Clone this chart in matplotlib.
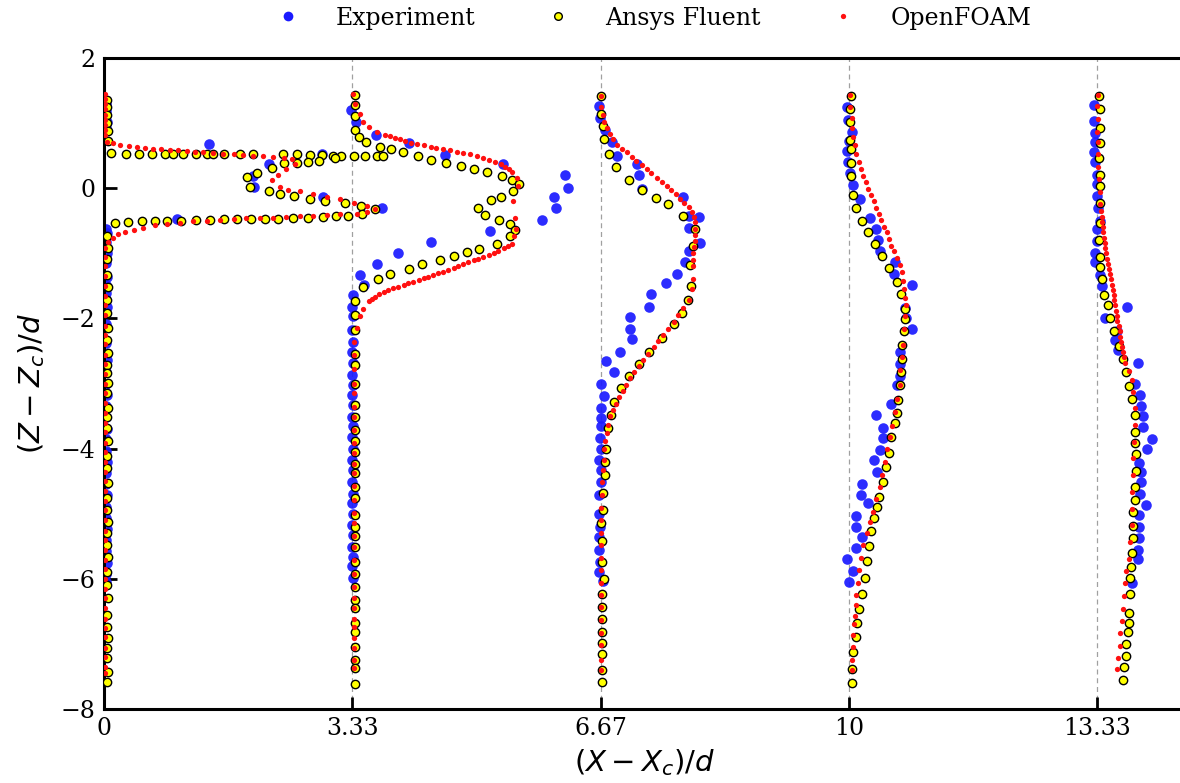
import matplotlib.pyplot as plt
from matplotlib.lines import Line2D

# stations along the wake, and their tick labels
stations = [0, 3.333, 6.667, 10, 13.333]
tick_labels = ["0", "3.33", "6.67", "10", "13.33"]

# profiles as (dx, z) pairs, dx measured from the station line
# --- Experiment ---
exp_0 = [(0.03, 1.30), (0.03, 1.18), (0.04, 1.02), (0.03, 0.93),
         (1.41, 0.68), (2.92, 0.53), (2.22, 0.37), (2.00, 0.18), (2.01, 0.02),
         (2.94, -0.13), (3.73, -0.31), (0.98, -0.48),
         (0.03, -0.62), (0.04, -0.69), (0.03, -0.82), (0.04, -1.00), (0.03, -1.15),
         (0.04, -1.36), (0.03, -1.49), (0.03, -1.61), (0.04, -1.82), (0.03, -2.08),
         (0.03, -2.38), (0.04, -2.64), (0.03, -2.82), (0.03, -3.00), (0.04, -3.17),
         (0.03, -3.35), (0.03, -3.52), (0.04, -3.70), (0.03, -3.86), (0.03, -4.04),
         (0.04, -4.20), (0.03, -4.38), (0.03, -4.55), (0.04, -4.72), (0.03, -4.90),
         (0.03, -5.06), (0.04, -5.24), (0.03, -5.40), (0.03, -5.58), (0.04, -5.75),
         (0.03, -5.92), (0.03, -6.05)]
exp_1 = [(-0.02, 1.20), (0.05, 1.02), (0.32, 0.82), (0.76, 0.69), (1.25, 0.51),
         (2.02, 0.37), (2.86, 0.20), (2.90, 0.00), (2.71, -0.14), (2.74, -0.31),
         (2.55, -0.49), (1.85, -0.65), (1.05, -0.82), (0.61, -0.99), (0.33, -1.16),
         (0.10, -1.33), (0.16, -1.49), (0.01, -1.64), (0.00, -1.82), (0.01, -1.97),
         (0.00, -2.18), (0.01, -2.36), (0.00, -2.51), (0.01, -2.69), (0.00, -2.87),
         (0.01, -3.02), (0.00, -3.18), (0.01, -3.33), (0.00, -3.51), (0.01, -3.66),
         (0.00, -3.82), (0.01, -4.00), (0.00, -4.18), (0.01, -4.33), (0.00, -4.51),
         (0.01, -4.69), (0.00, -4.84), (0.01, -5.00), (0.00, -5.17), (0.01, -5.33),
         (0.00, -5.51), (0.01, -5.66), (0.00, -5.81), (0.01, -5.99)]
exp_2 = [(-0.02, 1.27), (-0.01, 1.08), (0.06, 0.89), (0.15, 0.71), (0.22, 0.50),
         (0.49, 0.37), (0.51, 0.20), (0.56, -0.01), (1.10, -0.13), (1.18, -0.43),
         (1.32, -0.44), (1.18, -0.61), (1.33, -0.84), (1.18, -0.97), (1.13, -1.14),
         (1.02, -1.32), (0.88, -1.46), (0.68, -1.63), (0.65, -1.82), (0.39, -1.98),
         (0.40, -2.16), (0.42, -2.32), (0.26, -2.52), (0.07, -2.65), (0.18, -2.83),
         (0.01, -3.01), (0.04, -3.19), (0.01, -3.37), (0.01, -3.53), (0.01, -3.66),
         (-0.01, -3.83), (0.00, -4.01), (-0.02, -4.17), (0.00, -4.33), (0.01, -4.51),
         (-0.02, -4.72), (-0.02, -5.00), (-0.01, -5.20), (-0.02, -5.36), (-0.02, -5.55),
         (-0.01, -5.74), (-0.02, -5.90), (0.03, -6.03)]
exp_3 = [(-0.03, 1.24), (-0.01, 1.05), (0.04, 0.87), (0.00, 0.73), (-0.03, 0.57),
         (-0.01, 0.41), (0.01, 0.23), (0.06, 0.05), (0.15, -0.17), (0.28, -0.46),
         (0.36, -0.63), (0.39, -0.80), (0.42, -0.97), (0.62, -1.14), (0.60, -1.32),
         (0.85, -1.48), (0.75, -1.84), (0.77, -2.00), (0.84, -2.16), (0.68, -2.51),
         (0.68, -2.70), (0.68, -2.89), (0.64, -3.02), (0.57, -3.32), (0.36, -3.49),
         (0.46, -3.68), (0.46, -3.83), (0.42, -4.02), (0.34, -4.17), (0.38, -4.36),
         (0.17, -4.54), (0.16, -4.72), (0.26, -4.84), (0.10, -5.04), (0.10, -5.20),
         (0.17, -5.36), (0.10, -5.52), (-0.03, -5.69), (0.05, -5.88), (0.00, -6.05)]
exp_4 = [(-0.05, 1.28), (-0.05, 1.03), (-0.03, 0.85), (-0.03, 0.71), (-0.04, 0.55),
         (-0.03, 0.41), (-0.01, 0.21), (-0.01, 0.06), (0.00, -0.12), (0.01, -0.30),
         (0.03, -0.50), (-0.01, -0.63), (-0.01, -0.81), (-0.03, -1.00), (-0.03, -1.14),
         (0.04, -1.34), (0.06, -1.50), (0.40, -1.82), (0.10, -1.99), (0.26, -2.20),
         (0.24, -2.33), (0.28, -2.49), (0.54, -2.68), (0.51, -3.00), (0.57, -3.18),
         (0.58, -3.35), (0.62, -3.50), (0.62, -3.67), (0.73, -3.86), (0.67, -4.01),
         (0.56, -4.22), (0.58, -4.36), (0.58, -4.52), (0.57, -4.70), (0.65, -4.86),
         (0.56, -5.02), (0.56, -5.21), (0.56, -5.37), (0.54, -5.56), (0.55, -5.69),
         (0.46, -6.06)]

# --- Ansys Fluent ---
flu_0 = [(0.04, 1.36), (0.04, 1.24), (0.04, 1.12), (0.04, 1.00), (0.05, 0.88), (0.05, 0.72),
         (0.10, 0.54), (0.30, 0.53), (0.47, 0.53), (0.65, 0.53), (0.82, 0.53), (0.93, 0.53),
         (1.06, 0.53), (1.24, 0.53), (1.38, 0.53), (1.47, 0.53), (1.61, 0.53), (1.82, 0.53),
         (2.00, 0.53), (2.40, 0.52), (2.59, 0.52), (2.77, 0.51), (2.92, 0.51), (3.08, 0.50),
         (3.18, 0.50), (3.35, 0.50), (3.50, 0.50), (3.66, 0.50), (3.75, 0.50),
         (3.10, 0.46), (2.89, 0.42), (2.74, 0.40), (2.59, 0.38), (2.41, 0.38), (2.25, 0.31),
         (2.06, 0.23), (1.92, 0.17), (1.96, 0.02), (2.21, -0.05), (2.36, -0.09),
         (2.55, -0.12), (2.76, -0.16), (2.97, -0.19), (3.23, -0.23), (3.45, -0.28),
         (3.64, -0.32), (3.46, -0.39), (3.28, -0.42), (3.12, -0.43), (2.94, -0.44),
         (2.74, -0.45), (2.54, -0.46), (2.34, -0.47), (2.16, -0.47), (1.97, -0.48),
         (1.79, -0.48), (1.61, -0.48), (1.42, -0.49), (1.24, -0.49), (1.04, -0.50),
         (0.84, -0.50), (0.68, -0.50), (0.51, -0.50), (0.32, -0.52), (0.15, -0.53),
         (0.04, -0.74), (0.05, -0.92), (0.04, -1.09), (0.04, -1.33), (0.05, -1.51),
         (0.04, -1.72), (0.04, -1.92), (0.05, -2.15), (0.04, -2.33), (0.05, -2.53),
         (0.04, -2.72), (0.04, -2.84), (0.05, -2.99), (0.04, -3.15), (0.05, -3.38),
         (0.04, -3.52), (0.04, -3.69), (0.05, -3.89), (0.04, -4.12), (0.04, -4.30),
         (0.05, -4.53), (0.04, -4.76), (0.04, -4.94), (0.05, -5.12), (0.04, -5.30),
         (0.04, -5.48), (0.05, -5.66), (0.04, -5.89), (0.04, -6.10), (0.05, -6.30),
         (0.04, -6.56), (0.04, -6.74), (0.05, -6.91), (0.04, -7.07), (0.04, -7.22),
         (0.05, -7.43), (0.04, -7.58)]
flu_1 = [(0.03, 1.43), (0.03, 1.28), (0.03, 1.11), (0.04, 0.90), (0.09, 0.79), (0.18, 0.71),
         (0.37, 0.64), (0.52, 0.61), (0.68, 0.55), (0.88, 0.49), (1.06, 0.44), (1.26, 0.39),
         (1.46, 0.34), (1.63, 0.30), (1.81, 0.25), (2.01, 0.19), (2.14, 0.13), (2.24, 0.06),
         (2.16, -0.04), (2.00, -0.14), (1.86, -0.18), (1.69, -0.31), (1.78, -0.41),
         (1.97, -0.49), (2.12, -0.55), (2.19, -0.64), (2.12, -0.73), (1.94, -0.86),
         (1.70, -0.94), (1.54, -0.98), (1.36, -1.04), (1.18, -1.10), (0.93, -1.17),
         (0.76, -1.24), (0.50, -1.32), (0.35, -1.40), (0.15, -1.52),
         (0.04, -1.74), (0.04, -1.95), (0.04, -2.18), (0.04, -2.54), (0.04, -2.72),
         (0.04, -3.00), (0.04, -3.33), (0.04, -3.51), (0.04, -3.71), (0.04, -3.89),
         (0.04, -4.05), (0.04, -4.23), (0.04, -4.38), (0.04, -4.59), (0.04, -4.76),
         (0.04, -5.02), (0.04, -5.20), (0.04, -5.35), (0.04, -5.51), (0.04, -5.74),
         (0.04, -5.92), (0.04, -6.12), (0.04, -6.33), (0.04, -6.45), (0.04, -6.68),
         (0.04, -6.81), (0.04, -7.04), (0.04, -7.25), (0.04, -7.37), (0.04, -7.61)]
flu_2 = [(0.01, 1.42), (0.00, 1.14), (0.03, 0.95), (0.04, 0.76), (0.11, 0.52), (0.21, 0.32),
         (0.38, 0.12), (0.56, -0.03), (0.74, -0.15), (0.91, -0.25), (1.11, -0.43),
         (1.27, -0.62), (1.24, -0.89), (1.20, -1.18), (1.21, -1.50), (1.17, -1.72),
         (1.09, -1.92), (0.98, -2.09), (0.82, -2.30), (0.65, -2.52), (0.51, -2.70),
         (0.38, -2.88), (0.27, -3.07), (0.18, -3.29), (0.14, -3.49), (0.10, -3.69),
         (0.07, -4.00), (0.06, -4.20), (0.06, -4.40), (0.03, -4.68), (0.03, -4.94),
         (0.01, -5.15), (0.02, -5.42), (0.02, -5.74), (0.04, -6.00), (0.02, -6.24),
         (0.02, -6.43), (0.02, -6.62), (0.02, -6.82), (0.02, -6.99), (0.02, -7.15),
         (0.02, -7.40), (0.02, -7.58)]
flu_3 = [(0.03, 1.42), (0.01, 1.22), (0.01, 1.01), (0.01, 0.74), (0.03, 0.60), (0.03, 0.39),
         (0.03, 0.18), (0.06, -0.11), (0.10, -0.30), (0.17, -0.50), (0.26, -0.68),
         (0.35, -0.86), (0.44, -1.04), (0.54, -1.23), (0.64, -1.44), (0.70, -1.63),
         (0.75, -1.85), (0.75, -2.01), (0.74, -2.19), (0.71, -2.41), (0.71, -2.62),
         (0.70, -2.83), (0.68, -3.03), (0.66, -3.26), (0.64, -3.45), (0.62, -3.61),
         (0.57, -3.82), (0.54, -4.06), (0.50, -4.29), (0.45, -4.51), (0.40, -4.74),
         (0.37, -4.90), (0.34, -5.07), (0.30, -5.26), (0.27, -5.50), (0.24, -5.72),
         (0.21, -5.98), (0.17, -6.23), (0.13, -6.46), (0.11, -6.68), (0.09, -6.89),
         (0.05, -7.13), (0.04, -7.39), (0.04, -7.60)]
flu_4 = [(0.02, 1.42), (0.04, 1.21), (0.04, 0.92), (0.03, 0.70), (0.02, 0.46), (0.03, 0.21),
         (0.03, 0.04), (0.03, -0.22), (0.03, -0.54), (0.02, -0.79), (0.03, -1.05),
         (0.04, -1.21), (0.06, -1.39), (0.09, -1.64), (0.14, -1.80), (0.17, -1.99),
         (0.23, -2.20), (0.29, -2.42), (0.34, -2.62), (0.39, -2.83), (0.43, -3.04),
         (0.46, -3.24), (0.51, -3.48), (0.51, -3.75), (0.51, -3.91), (0.52, -4.09),
         (0.52, -4.34), (0.51, -4.59), (0.50, -4.79), (0.48, -4.98), (0.48, -5.19),
         (0.48, -5.37), (0.46, -5.61), (0.45, -5.82), (0.44, -5.99), (0.44, -6.23),
         (0.42, -6.52), (0.42, -6.68), (0.41, -6.81), (0.39, -7.00), (0.38, -7.19),
         (0.36, -7.36), (0.34, -7.56)]

# --- OpenFOAM ---
foam_0 = [(0.01, 1.45), (0.01, 1.37), (0.01, 1.29), (0.01, 1.21), (0.01, 1.13), (0.01, 1.05),
          (0.01, 0.97), (0.02, 0.89), (0.02, 0.81),
          (0.04, 0.71), (0.12, 0.69), (0.21, 0.66), (0.33, 0.65), (0.44, 0.64), (0.55, 0.62),
          (0.66, 0.61), (0.77, 0.60), (0.89, 0.59), (1.00, 0.58), (1.11, 0.57), (1.22, 0.56),
          (1.33, 0.55), (1.47, 0.54), (1.60, 0.53), (1.74, 0.52), (1.87, 0.51), (2.00, 0.50),
          (2.14, 0.49), (2.27, 0.48), (2.41, 0.47), (2.52, 0.45), (2.57, 0.37), (2.45, 0.29),
          (2.34, 0.21), (2.26, 0.13),
          (2.36, 0.02), (2.47, -0.02), (2.63, -0.05), (2.81, -0.09), (2.99, -0.13),
          (3.17, -0.17), (3.35, -0.22), (3.53, -0.28), (3.64, -0.32),
          (3.53, -0.36), (3.39, -0.39), (3.17, -0.40), (2.99, -0.41), (2.81, -0.42),
          (2.63, -0.43), (2.45, -0.44), (2.27, -0.45), (2.09, -0.45), (1.91, -0.46),
          (1.74, -0.48), (1.56, -0.49), (1.38, -0.50), (1.20, -0.51), (1.02, -0.53),
          (0.84, -0.55), (0.68, -0.57), (0.53, -0.61), (0.40, -0.64), (0.28, -0.67),
          (0.19, -0.71), (0.12, -0.77), (0.05, -0.83),
          (0.01, -0.92), (0.01, -1.05), (0.01, -1.20), (0.01, -1.35), (0.01, -1.50),
          (0.01, -1.66), (0.01, -1.80), (0.01, -1.95), (0.01, -2.11), (0.01, -2.25),
          (0.01, -2.40), (0.01, -2.56), (0.01, -2.70), (0.01, -2.85), (0.01, -3.01),
          (0.01, -3.15), (0.01, -3.30), (0.01, -3.46), (0.01, -3.60), (0.01, -3.75),
          (0.01, -3.91), (0.01, -4.05), (0.01, -4.20), (0.01, -4.36), (0.01, -4.50),
          (0.01, -4.65), (0.01, -4.81), (0.01, -4.95), (0.01, -5.10), (0.01, -5.26),
          (0.01, -5.40), (0.01, -5.55), (0.01, -5.71), (0.01, -5.85), (0.01, -6.00),
          (0.01, -6.16), (0.01, -6.30), (0.01, -6.45), (0.01, -6.61), (0.01, -6.75),
          (0.01, -6.90), (0.01, -7.06), (0.01, -7.20), (0.01, -7.35), (0.01, -7.45)]
foam_1 = [(0.01, 1.45), (0.04, 1.29), (0.10, 1.14), (0.15, 1.02), (0.23, 0.94), (0.33, 0.87),
          (0.44, 0.82), (0.50, 0.80), (0.58, 0.77), (0.64, 0.75), (0.71, 0.73), (0.79, 0.70),
          (0.87, 0.68), (0.96, 0.66), (1.05, 0.64), (1.13, 0.62), (1.22, 0.60), (1.31, 0.58),
          (1.40, 0.56), (1.49, 0.54), (1.58, 0.52), (1.67, 0.50), (1.76, 0.47), (1.84, 0.44),
          (1.92, 0.41), (1.99, 0.37), (2.05, 0.33), (2.10, 0.29), (2.14, 0.25), (2.21, 0.15),
          (2.23, 0.03), (2.16, -0.19), (2.18, -0.46), (2.20, -0.62), (2.17, -0.74),
          (2.14, -0.86), (2.09, -0.89), (2.03, -0.92), (1.96, -0.96), (1.90, -0.99),
          (1.83, -1.02), (1.76, -1.05), (1.69, -1.08), (1.63, -1.10), (1.56, -1.13),
          (1.49, -1.16), (1.42, -1.19), (1.36, -1.22), (1.29, -1.25), (1.22, -1.28),
          (1.15, -1.30), (1.09, -1.33), (1.02, -1.36), (0.96, -1.38), (0.89, -1.41),
          (0.82, -1.44), (0.75, -1.46), (0.69, -1.49), (0.62, -1.52), (0.55, -1.54),
          (0.48, -1.57), (0.42, -1.59), (0.36, -1.63), (0.31, -1.67), (0.26, -1.70),
          (0.22, -1.74), (0.15, -1.85), (0.10, -1.97), (0.06, -2.15),
          (0.02, -2.36), (0.02, -2.56), (0.02, -2.77), (0.02, -3.00), (0.02, -3.15),
          (0.02, -3.36), (0.02, -3.51), (0.02, -3.71), (0.02, -3.92), (0.02, -4.07),
          (0.02, -4.23), (0.02, -4.38), (0.02, -4.58), (0.02, -4.79), (0.02, -4.99),
          (0.02, -5.15), (0.02, -5.35), (0.02, -5.51), (0.02, -5.71), (0.02, -5.92),
          (0.02, -6.12), (0.02, -6.30), (0.02, -6.45), (0.02, -6.61), (0.02, -6.74),
          (0.02, -6.91), (0.02, -7.07), (0.02, -7.25), (0.02, -7.37)]
foam_2 = [(0.00, 1.42), (0.01, 1.25), (0.03, 1.12), (0.05, 1.01), (0.08, 0.93), (0.13, 0.84),
          (0.17, 0.76), (0.22, 0.67), (0.28, 0.61), (0.35, 0.55), (0.42, 0.48), (0.48, 0.42),
          (0.55, 0.35), (0.62, 0.29), (0.68, 0.23), (0.75, 0.16), (0.82, 0.10), (0.89, 0.03),
          (0.95, -0.03), (1.01, -0.09), (1.07, -0.16), (1.12, -0.22), (1.18, -0.29),
          (1.22, -0.36), (1.25, -0.44), (1.27, -0.52), (1.27, -0.62), (1.26, -0.72),
          (1.26, -0.81), (1.25, -0.91), (1.24, -1.00), (1.24, -1.10), (1.24, -1.20),
          (1.24, -1.39), (1.22, -1.55), (1.18, -1.71), (1.11, -1.84), (1.04, -1.95),
          (0.98, -2.06), (0.91, -2.16), (0.84, -2.25), (0.77, -2.35), (0.71, -2.44),
          (0.64, -2.54), (0.57, -2.64), (0.51, -2.73), (0.45, -2.83), (0.39, -2.92),
          (0.34, -3.02), (0.30, -3.12), (0.25, -3.21), (0.21, -3.31), (0.17, -3.40),
          (0.13, -3.50), (0.10, -3.63), (0.08, -3.76), (0.06, -3.88), (0.05, -4.01),
          (0.04, -4.17), (0.03, -4.33), (0.02, -4.52), (0.02, -4.72), (0.01, -4.91),
          (0.01, -5.10), (0.01, -5.29), (0.01, -5.48), (0.01, -5.68), (0.01, -5.87),
          (0.01, -6.06), (0.01, -6.25), (0.01, -6.44), (0.01, -6.64), (0.01, -6.83),
          (0.01, -7.02), (0.01, -7.24), (0.01, -7.40)]
foam_3 = [(0.01, 1.43), (0.01, 1.24), (0.04, 1.08), (0.04, 0.92), (0.06, 0.79), (0.08, 0.66),
          (0.10, 0.53), (0.13, 0.41), (0.16, 0.29), (0.19, 0.18), (0.23, 0.09), (0.26, -0.01),
          (0.29, -0.11), (0.33, -0.20), (0.36, -0.30), (0.40, -0.40), (0.43, -0.49),
          (0.47, -0.59), (0.51, -0.68), (0.54, -0.78), (0.57, -0.88), (0.60, -0.97),
          (0.64, -1.07), (0.68, -1.18), (0.71, -1.29), (0.73, -1.42), (0.74, -1.55),
          (0.75, -1.68), (0.76, -1.80), (0.75, -1.96), (0.74, -2.16), (0.73, -2.41),
          (0.71, -2.60), (0.69, -2.80), (0.68, -3.02), (0.65, -3.24), (0.62, -3.44),
          (0.58, -3.66), (0.55, -3.82), (0.51, -4.01), (0.48, -4.20), (0.44, -4.40),
          (0.41, -4.59), (0.36, -4.78), (0.32, -4.97), (0.28, -5.13), (0.24, -5.29),
          (0.19, -5.48), (0.16, -5.68), (0.14, -5.87), (0.12, -6.06), (0.10, -6.25),
          (0.09, -6.41), (0.08, -6.57), (0.07, -6.70), (0.06, -6.86), (0.05, -7.05),
          (0.04, -7.24), (0.04, -7.40)]
foam_4 = [(0.01, 1.43), (0.00, 1.26), (0.01, 1.07), (0.00, 0.87), (0.01, 0.71), (0.01, 0.52),
          (0.01, 0.33), (0.02, 0.14), (0.03, -0.06), (0.04, -0.25), (0.05, -0.35),
          (0.06, -0.44), (0.065, -0.52), (0.07, -0.60), (0.08, -0.68), (0.09, -0.76),
          (0.10, -0.84), (0.11, -0.92), (0.12, -1.00), (0.135, -1.08), (0.15, -1.16),
          (0.16, -1.24), (0.17, -1.32), (0.18, -1.40), (0.195, -1.48), (0.21, -1.56),
          (0.22, -1.64), (0.23, -1.72), (0.24, -1.80), (0.25, -1.88), (0.26, -1.96),
          (0.27, -2.04), (0.285, -2.12), (0.30, -2.20), (0.31, -2.28), (0.32, -2.36),
          (0.33, -2.44), (0.34, -2.52), (0.355, -2.60), (0.37, -2.68), (0.42, -2.81),
          (0.46, -2.94), (0.48, -3.13), (0.51, -3.38), (0.51, -3.64), (0.49, -3.90),
          (0.48, -4.15), (0.475, -4.41), (0.46, -4.66), (0.46, -4.92), (0.46, -5.18),
          (0.44, -5.43), (0.42, -5.69), (0.385, -5.88), (0.37, -6.07), (0.36, -6.26),
          (0.34, -6.46), (0.33, -6.65), (0.31, -6.84), (0.305, -7.03), (0.28, -7.22),
          (0.27, -7.38)]

exp_data = [exp_0, exp_1, exp_2, exp_3, exp_4]
flu_data = [flu_0, flu_1, flu_2, flu_3, flu_4]
foam_data = [foam_0, foam_1, foam_2, foam_3, foam_4]

plt.rcParams['font.family'] = 'DejaVu Serif'
plt.rcParams['mathtext.fontset'] = 'dejavusans'

fig = plt.figure(figsize=(11.8, 7.83), dpi=100)
ax = fig.add_axes([0.0881, 0.0945, 0.9155, 0.8314])

# station lines
for s in stations[1:]:
    ax.axvline(s, color='#a0a0a0', lw=0.9, ls=(0, (4, 3)), zorder=0)


def draw(data, **kw):
    for s, prof in zip(stations, data):
        xs = [s + p[0] for p in prof]
        zs = [p[1] for p in prof]
        ax.plot(xs, zs, ls='none', marker='o', **kw)


draw(exp_data, color='#1a1aff', ms=7.6, mec='none', alpha=0.92, zorder=2)
draw(flu_data, mfc='#ffff00', mec='black', ms=6.0, mew=1.0, zorder=3)
draw(foam_data, color='#ff1010', ms=3.8, mec='none', zorder=4)

ax.set_xlim(0, 14.5)
ax.set_ylim(-8, 2)
ax.set_xticks(stations)
ax.set_xticklabels(tick_labels)
ax.set_yticks([-8, -6, -4, -2, 0, 2])
ax.tick_params(direction='in', length=9, width=2, labelsize=17, pad=6)
for side in ['left', 'bottom', 'top']:
    ax.spines[side].set_linewidth(2.2)
ax.spines['right'].set_visible(False)

ax.set_xlabel(r'$(X-X_c)/d$', fontsize=21, labelpad=5)
ax.set_ylabel(r'$(Z-Z_c)/d$', fontsize=21, labelpad=10)

handles = [Line2D([], [], ls='none', marker='o', color='#1a1aff', ms=7, mec='none'),
           Line2D([], [], ls='none', marker='o', mfc='#ffff00', mec='black', ms=5.5, mew=1.0),
           Line2D([], [], ls='none', marker='o', color='#ff1010', ms=3.8, mec='none')]
fig.legend(handles, ['Experiment', 'Ansys Fluent', 'OpenFOAM'], loc='center',
           bbox_to_anchor=(0.549, 0.977), ncol=3, frameon=False,
           prop={'family': 'DejaVu Serif', 'size': 17}, handlelength=2.0,
           handletextpad=1.0, columnspacing=2.5, numpoints=1)

plt.savefig('out.png', dpi=100)
